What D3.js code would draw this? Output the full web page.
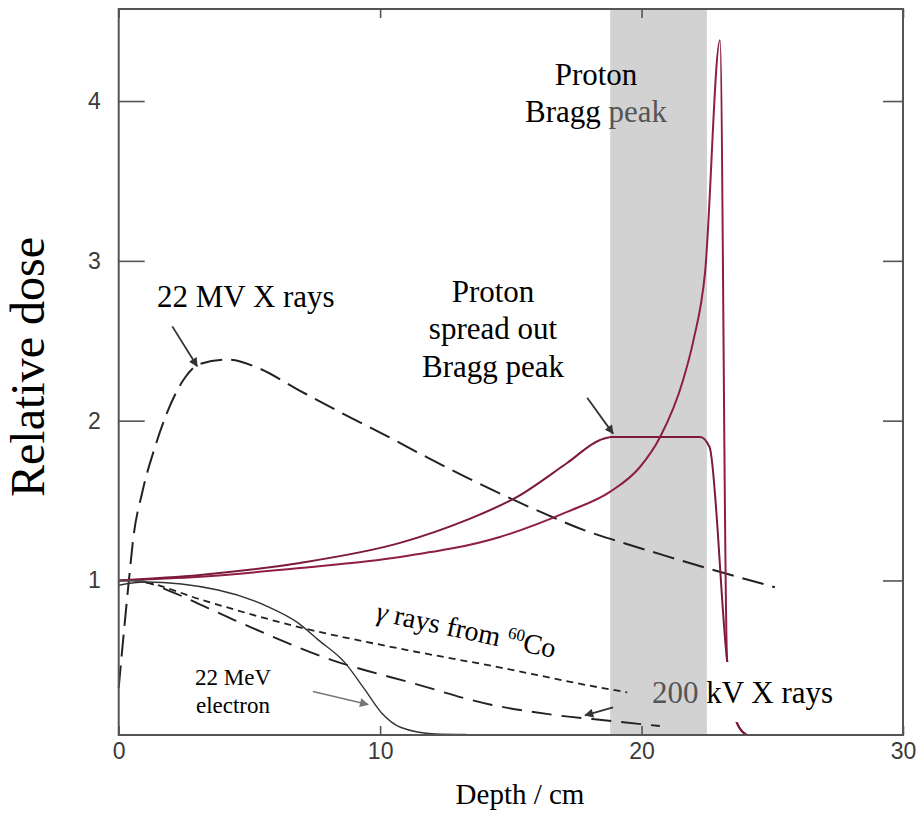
<!DOCTYPE html>
<html>
<head>
<meta charset="utf-8">
<script src="https://cdn.jsdelivr.net/npm/d3@7"></script>
<style>
  html, body { margin: 0; padding: 0; background: #fff; }
  svg { display: block; }
</style>
</head>
<body>
<svg id="chart" width="917" height="816"></svg>
<script>
// ---------------- data (depth in cm, relative dose) ----------------
const depthTicks = [0, 10, 20, 30];
const doseTicks = [1, 2, 3, 4];

const mv22XRays = [[0,0.33],[0.43,1.066],[0.55,1.254],[0.9,1.55],[1.39,1.836],[1.85,2.05],[2.54,2.27],[3.1,2.355],[4.2,2.382],[5.3,2.332],[6.9,2.19],[8.5,2.05],[10.3,1.90],[11.8,1.77],[13.3,1.645],[14.9,1.52],[16.4,1.41],[17.8,1.315],[19.1,1.245],[20.8,1.16],[22.5,1.077],[25.1,0.958]];
const protonSOBP = [[0,1.0],[3.11,1.034],[6.93,1.11],[10.76,1.235],[13.32,1.379],[15.24,1.523],[17.15,1.735],[18.41,1.879],[18.85,1.898],[22.24,1.898],[22.6,1.835],[23.27,0.503],[23.65,0.108],[24.03,0.033]];
const protonPristine = [[0,1.0],[3.11,1.024],[6.93,1.078],[10.76,1.147],[14.58,1.272],[17.15,1.429],[18.79,1.554],[19.94,1.71],[20.71,1.898],[21.59,2.255],[21.98,2.499],[22.43,2.93],[23.0,4.38],[23.27,0.503],[23.65,0.108],[24.03,0.033]];
const co60Gamma = [[0.6,1.0],[1.0,0.99],[3.15,0.88],[7.1,0.70],[10.4,0.585],[14.6,0.455],[18.4,0.33],[19.45,0.30]];
const kv200XRays = [[0.6,1.0],[1.0,0.99],[2.0,0.93],[4.4,0.754],[8.1,0.505],[11.3,0.355],[14.2,0.224],[16.5,0.162],[18.9,0.12],[20.7,0.089]];
const mev22Electron = [[0,0.97],[1.0,0.99],[3.8,0.94],[5.7,0.837],[6.86,0.735],[7.62,0.63],[8.65,0.486],[9.41,0.318],[10.04,0.174],[10.8,0.08],[12.1,0.04],[13.3,0.037]];

const braggBand = [18.8, 22.5];

// annotation arrows in data units: [fromDepth, fromDose, toDepth, toDose]
const arrowMV = [2.05, 2.59, 3.0, 2.34];
const arrowSOBP = [17.92, 2.143, 18.91, 1.919];
const arrowElectron = [7.43, 0.305, 9.54, 0.224];
const arrowKV = [18.91, 0.206, 17.84, 0.156];

// ---------------- layout ----------------
const svg = d3.select("#chart");
const pL = 118.7, pR = 903, pT = 9, pB = 735;
const x = d3.scaleLinear().domain([0, 30]).range([pL, pR]);
const y = d3.scaleLinear().domain([0.033, 4.576]).range([pB, pT]);

const serif = "'Liberation Serif','Times New Roman',Times,serif";
const sans = "'Liberation Sans',Arial,Helvetica,sans-serif";

const defs = svg.append("defs");
function marker(id, color) {
  defs.append("marker").attr("id", id).attr("viewBox", "0 0 10 10")
    .attr("refX", 9).attr("refY", 5).attr("markerWidth", 11).attr("markerHeight", 9)
    .attr("markerUnits", "userSpaceOnUse").attr("orient", "auto")
    .append("path").attr("d", "M0,0 L10,5 L0,10 z").attr("fill", color);
}
marker("arrDark", "#333");
marker("arrGray", "#777");

// grey band
svg.append("rect")
  .attr("x", x(braggBand[0])).attr("y", pT)
  .attr("width", x(braggBand[1]) - x(braggBand[0]))
  .attr("height", pB - pT)
  .attr("fill", "#d2d2d2");

const line = d3.line().x(d => x(d[0])).y(d => y(d[1])).curve(d3.curveMonotoneX);

const g = svg.append("g");
g.append("path").datum(mv22XRays).attr("d", line).attr("fill", "none")
  .attr("stroke", "#222").attr("stroke-width", 2).attr("stroke-dasharray", "22,9");
g.append("path").datum(co60Gamma).attr("d", line).attr("fill", "none")
  .attr("stroke", "#222").attr("stroke-width", 1.8).attr("stroke-dasharray", "7,5");
g.append("path").datum(kv200XRays).attr("d", line).attr("fill", "none")
  .attr("stroke", "#222").attr("stroke-width", 1.9).attr("stroke-dasharray", "20,10");
g.append("path").datum(mev22Electron).attr("d", line).attr("fill", "none")
  .attr("stroke", "#333").attr("stroke-width", 1.4);
g.append("path").datum(protonPristine).attr("d", line).attr("fill", "none")
  .attr("stroke", "#8e1d47").attr("stroke-width", 2);
g.append("path").datum(protonSOBP).attr("d", line).attr("fill", "none")
  .attr("stroke", "#7d1a3c").attr("stroke-width", 2);

function arrow(a, color, id, w) {
  svg.append("line").attr("x1", x(a[0])).attr("y1", y(a[1])).attr("x2", x(a[2])).attr("y2", y(a[3]))
    .attr("stroke", color).attr("stroke-width", w).attr("marker-end", `url(#${id})`);
}
arrow(arrowMV, "#333", "arrDark", 1.8);
arrow(arrowSOBP, "#333", "arrDark", 1.8);
arrow(arrowElectron, "#777", "arrGray", 1.4);
arrow(arrowKV, "#333", "arrDark", 1.8);

// white box behind "kV X rays"
svg.append("rect").attr("x", x(braggBand[1])).attr("y", 662)
  .attr("width", 135).attr("height", 60).attr("fill", "#fff");

// axes
const axB = svg.append("g").attr("transform", `translate(0,${pB})`)
  .call(d3.axisBottom(x).tickValues(depthTicks).tickSizeInner(-9).tickSizeOuter(0).tickPadding(8));
const axT = svg.append("g").attr("transform", `translate(0,${pT})`)
  .call(d3.axisTop(x).tickValues(depthTicks).tickSizeInner(-9).tickSizeOuter(0).tickFormat(""));
const axL = svg.append("g").attr("transform", `translate(${pL},0)`)
  .call(d3.axisLeft(y).tickValues(doseTicks).tickSizeInner(-26).tickSizeOuter(0).tickPadding(18).tickFormat(d3.format("d")));
const axR = svg.append("g").attr("transform", `translate(${pR},0)`)
  .call(d3.axisRight(y).tickValues(doseTicks).tickSizeInner(-20).tickSizeOuter(0).tickFormat(""));
[axB, axT, axL, axR].forEach(a => {
  a.select(".domain").remove();
  a.selectAll(".tick line").attr("stroke", "#555").attr("stroke-width", 1.6);
  a.selectAll(".tick text").attr("fill", "#3a3a3a").style("font-family", sans).style("font-size", "23px");
});
svg.append("rect").attr("x", pL).attr("y", pT).attr("width", pR - pL).attr("height", pB - pT)
  .attr("fill", "none").attr("stroke", "#555").attr("stroke-width", 2);

// ---------------- text ----------------
function txt(xp, yp, s, size, anchor) {
  return svg.append("text").attr("x", xp).attr("y", yp).attr("text-anchor", anchor || "start")
    .style("font-family", serif).style("font-size", size + "px").attr("fill", "#000").text(s);
}
svg.append("text").attr("transform", "translate(44,367) rotate(-90)").attr("text-anchor", "middle")
  .style("font-family", serif).style("font-size", "48px").text("Relative dose");
txt(520, 804, "Depth / cm", 29, "middle");
txt(157, 307, "22 MV X rays", 31);
txt(493, 302, "Proton", 31, "middle");
txt(493, 339, "spread out", 31, "middle");
txt(493, 377, "Bragg peak", 31, "middle");
txt(596, 85, "Proton", 31, "middle");
const bp = txt(596, 122, "", 31, "middle");
bp.append("tspan").text("Bragg ");
bp.append("tspan").attr("fill", "#555").text("peak");
txt(233, 685, "22 MeV", 23, "middle");
txt(233, 713, "electron", 23, "middle");
const kv = txt(652, 703, "", 31);
kv.append("tspan").attr("fill", "#555").text("200");
kv.append("tspan").text(" kV X rays");

const gam = svg.append("text").attr("transform", "translate(375,620) rotate(12)")
  .style("font-family", serif).style("font-size", "28px");
gam.append("tspan").style("font-style", "italic").text("γ");
gam.append("tspan").text(" rays from ");
gam.append("tspan").attr("dy", -10).style("font-size", "17px").text("60");
gam.append("tspan").attr("dy", 10).text("Co");
</script>
</body>
</html>
